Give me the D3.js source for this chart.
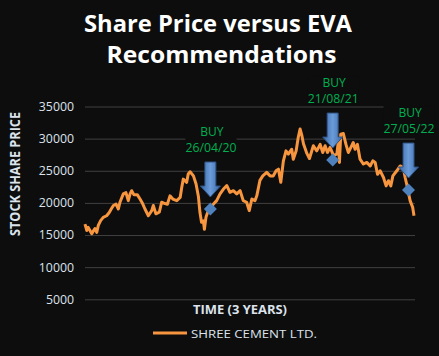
<!DOCTYPE html>
<html>
<head>
<meta charset="utf-8">
<script src="https://cdn.jsdelivr.net/npm/d3@7"></script>
<style>
  html, body { margin: 0; padding: 0; background: #0d0d0d; }
  svg { display: block; }
</style>
</head>
<body>
<script>
// ---- data ----
const titleLines = ["Share Price versus EVA", "Recommendations"];
const yTickValues = [5000, 10000, 15000, 20000, 25000, 30000, 35000];
const yAxisTitle = "STOCK SHARE PRICE";
const xAxisTitle = "TIME (3 YEARS)";
const seriesName = "SHREE CEMENT LTD.";

// day index within the 3-year window
const days = [0,7,12,26,33,38,45,51,60,70,83,93,100,109,119,128,134,147,157,166,173,179,188,201,211,221,230,243,256,262,272,285,294,307,316,326,337,352,365,371,377,390,396,403,416,426,435,441,447,454,458,464,473,480,492,505,518,531,544,556,569,582,595,607,620,630,640,652,659,671,682,697,710,722,733,742,751,761,771,780,793,799,810,818,825,832,838,851,861,876,889,902,912,921,930,940,953,966,972,976,981,991,1001,1010,1020,1029,1036,1045,1055,1068,1081,1094,1104,1113,1122,1132,1145,1155,1164,1173,1181,1196,1209,1221,1228,1234,1247,1257,1262];
const prices = [16700,15700,16200,15200,15700,16000,15400,16500,17250,17750,18000,18500,19000,19600,19800,19050,20100,21400,21600,20350,21400,21900,21250,21250,20600,19900,19050,18000,18800,19600,18300,18550,20100,19900,19800,21100,20600,20350,20850,22400,23700,23200,24500,24850,24200,22950,21000,18500,17000,17200,15900,17750,18800,19000,19800,20350,21400,22150,22700,21650,21900,21400,21900,20350,20100,18800,20600,20350,21100,23500,24200,24750,24200,24200,25000,25250,23200,26550,28100,27600,28350,26800,28100,30200,31500,30450,29200,27700,26900,28900,28100,29100,27850,28900,27850,28650,27400,27600,29650,26300,30700,30800,29100,27850,28650,29400,28350,29100,26800,26050,26300,25750,26550,26300,24450,25000,23950,22650,23450,22650,24200,25000,25750,25500,23950,22900,20350,19300,18000];

const buyDays = [481, 950, 1241];
const buyPrices = [19050, 26670, 22000];
const buyWord = "BUY";
const buyDates = ["26/04/20", "21/08/21", "27/05/22"];

// ---- layout ----
const W = 439, H = 356;
const bg = "#0d0d0d";
const axisText = "#dce3ec";
const lineColor = "#f7963f";
const green = "#00b050";

const svg = d3.select("body").append("svg").attr("width", W).attr("height", H);
svg.append("rect").attr("width", W).attr("height", H).attr("fill", bg);

const x = d3.scaleLinear().domain([0, 1262]).range([85, 414]);
const y = d3.scaleLinear().domain([5000, 35000]).range([299.3, 106.5]);
const plotRight = 415;

function fit(sel, w) {
  const n = sel.node();
  const cur = n.getComputedTextLength();
  if (Math.abs(cur - w) > 0.5) sel.attr("textLength", w).attr("lengthAdjust", "spacingAndGlyphs");
  return sel;
}

// gridlines + y tick labels
const yAxis = d3.axisLeft(y).tickValues(yTickValues).tickSize(-(plotRight - 85)).tickPadding(11).tickFormat(d3.format("d"));
const gy = svg.append("g").attr("transform", "translate(85,0)").call(yAxis);
gy.select(".domain").remove();
gy.selectAll(".tick line").attr("stroke", "#404040").attr("stroke-width", 1);
gy.selectAll(".tick text")
  .attr("fill", axisText).attr("font-family", "'Open Sans', sans-serif")
  .attr("font-size", 12.3);

// title
const titleG = svg.append("g").attr("font-family", "'Open Sans', sans-serif").attr("font-weight", 700)
  .attr("fill", "#ffffff").attr("text-anchor", "middle").attr("font-size", 23.5);
fit(titleG.append("text").attr("x", 218).attr("y", 31.7).text(titleLines[0]), 268);
fit(titleG.append("text").attr("x", 221.5).attr("y", 63.3).text(titleLines[1]), 230);

// axis titles
fit(svg.append("text")
  .attr("transform", "translate(19.5,174) rotate(-90)")
  .attr("text-anchor", "middle").attr("font-family", "'Open Sans', sans-serif")
  .attr("font-weight", 700).attr("font-size", 13.5).attr("fill", axisText)
  .text(yAxisTitle), 124);

fit(svg.append("text")
  .attr("x", 240).attr("y", 313.5).attr("text-anchor", "middle")
  .attr("font-family", "'Open Sans', sans-serif").attr("font-weight", 700)
  .attr("font-size", 12.5).attr("fill", axisText)
  .text(xAxisTitle), 94);

// price line
const pts = days.map((d, i) => [d, prices[i]]);
svg.append("path")
  .datum(pts)
  .attr("fill", "none").attr("stroke", lineColor).attr("stroke-width", 3)
  .attr("stroke-linejoin", "round")
  .attr("d", d3.line().x(d => x(d[0])).y(d => y(d[1])));

// gradients for arrows
const defs = svg.append("defs");
const grad = defs.append("linearGradient").attr("id", "arrowGrad").attr("x1", "0").attr("x2", "1").attr("y1", "0").attr("y2", "0");
grad.append("stop").attr("offset", "0%").attr("stop-color", "#3a68a8");
grad.append("stop").attr("offset", "50%").attr("stop-color", "#6b9bd8");
grad.append("stop").attr("offset", "100%").attr("stop-color", "#3a68a8");

// buy markers, arrows, labels
const buys = buyDays.map((d, i) => ({ d, p: buyPrices[i], label: buyDates[i] }));
const bg2 = svg.append("g");
buys.forEach(b => {
  const cx = x(b.d), cy = y(b.p);
  // diamond
  bg2.append("path")
    .attr("d", `M${cx},${cy - 6.5}L${cx + 6.5},${cy}L${cx},${cy + 6.5}L${cx - 6.5},${cy}Z`)
    .attr("fill", "#4f81bd");
  // arrow
  const tip = cy - 12, top = tip - 35, sw = 5.5, hw = 10, hl = 11;
  bg2.append("path")
    .attr("d", `M${cx - sw},${top}L${cx + sw},${top}L${cx + sw},${tip - hl}L${cx + hw},${tip - hl}L${cx},${tip}L${cx - hw},${tip - hl}L${cx - sw},${tip - hl}Z`)
    .attr("fill", "url(#arrowGrad)").attr("stroke", "#2f5384").attr("stroke-width", 1);
  // label box + text
  const lg = bg2.append("g").attr("font-family", "'Open Sans', sans-serif").attr("fill", green)
    .attr("text-anchor", "middle").attr("font-size", 12);
  const box = lg.append("rect").attr("fill", bg);
  const t1 = lg.append("text").attr("x", cx + 1.5).attr("y", top - 26).text(buyWord);
  const t2 = lg.append("text").attr("x", cx + 0.5).attr("y", top - 10).text(b.label);
  fit(t2, 51);
  const b1 = t1.node().getBBox(), b2 = t2.node().getBBox();
  const bx0 = Math.min(b1.x, b2.x), bx1 = Math.max(b1.x + b1.width, b2.x + b2.width);
  box.attr("x", bx0).attr("width", bx1 - bx0).attr("y", b1.y + 2).attr("height", (top - 10 + 1) - (b1.y + 2));
});

// legend
svg.append("line").attr("x1", 153).attr("x2", 187).attr("y1", 333).attr("y2", 333)
  .attr("stroke", lineColor).attr("stroke-width", 2.8);
fit(svg.append("text").attr("x", 191).attr("y", 337.5)
  .attr("font-family", "'Open Sans', sans-serif").attr("font-size", 11).attr("fill", axisText)
  .text(seriesName), 126);
</script>
</body>
</html>
